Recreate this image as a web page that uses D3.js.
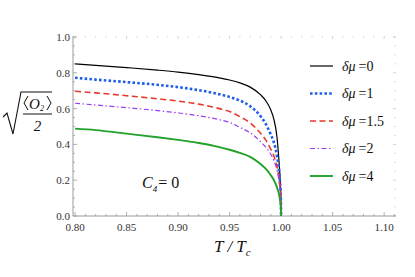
<!DOCTYPE html>
<html><head><meta charset="utf-8">
<script src="https://cdn.jsdelivr.net/npm/d3@7"></script>
<style>body{margin:0;background:#fff}svg{display:block}
text{font-family:"Liberation Serif","Times New Roman","DejaVu Serif",serif}</style>
</head><body>
<svg id="c" width="415" height="277"></svg>
<script>
const temps = [0.80,0.82,0.85,0.88,0.90,0.92,0.94,0.95,0.96,0.97,0.98,0.985,0.99,0.993,0.996,0.998,0.999,0.9997,1.0];
const mu0   = [0.850,0.842,0.829,0.815,0.804,0.790,0.772,0.760,0.744,0.720,0.678,0.645,0.592,0.540,0.440,0.300,0.210,0.115,0];
const mu1   = [0.772,0.762,0.748,0.733,0.720,0.703,0.680,0.665,0.645,0.613,0.558,0.515,0.455,0.410,0.335,0.255,0.180,0.100,0];
const mu15  = [0.697,0.688,0.672,0.655,0.642,0.625,0.600,0.584,0.555,0.520,0.462,0.425,0.372,0.335,0.275,0.210,0.155,0.090,0];
const mu2   = [0.630,0.620,0.605,0.589,0.576,0.560,0.538,0.523,0.495,0.465,0.415,0.385,0.345,0.310,0.255,0.195,0.145,0.080,0];
const mu4   = [0.488,0.480,0.460,0.440,0.425,0.408,0.385,0.370,0.353,0.330,0.290,0.265,0.228,0.200,0.160,0.120,0.085,0.050,0];
const seriesLabels = ["=0","=1","=1.5","=2","=4"];
const xTicks = [0.80,0.85,0.90,0.95,1.00,1.05,1.10];
const yTicks = [0.0,0.2,0.4,0.6,0.8,1.0];

const series = [
  {v: mu0,  color:"#000000", w:1.2, dash:null},
  {v: mu1,  color:"#1f5ee8", w:2.6, dash:"2.6,2.2"},
  {v: mu15, color:"#e8392a", w:1.6, dash:"6,3.5"},
  {v: mu2,  color:"#9b3ef0", w:1.2, dash:"5,2.5,1.5,2.5"},
  {v: mu4,  color:"#22a22a", w:1.9, dash:null}
];

const svg = d3.select("#c");
const L=73, R=396, T=36, B=216;
const x = d3.scaleLinear().domain([0.798,1.1115]).range([L,R]);
const y = d3.scaleLinear().domain([0,1.0]).range([B,T+1]);
const axCol="#9a9a9a";

const xMinor = d3.range(80,112).map(d=>d/100);
const yMinor = d3.range(0,21).map(d=>d*0.05);
const isMajX = d=>Math.abs(d*20-Math.round(d*20))<1e-6;
const isMajY = d=>Math.abs(d*5-Math.round(d*5))<1e-6;

const g = svg.append("g");
g.selectAll(".xm").data(xMinor).enter().append("line")
 .attr("x1",d=>x(d)).attr("x2",d=>x(d)).attr("y1",B).attr("y2",d=>B-(isMajX(d)?4:2))
 .attr("stroke",axCol).attr("stroke-width",0.8);
g.selectAll(".xt").data(xMinor).enter().append("line")
 .attr("x1",d=>x(d)).attr("x2",d=>x(d)).attr("y1",T).attr("y2",d=>T+(isMajX(d)?3:1.5))
 .attr("stroke","#c8c8c8").attr("stroke-width",0.8);
g.selectAll(".ym").data(yMinor).enter().append("line")
 .attr("y1",d=>y(d)).attr("y2",d=>y(d)).attr("x1",L).attr("x2",d=>L+(isMajY(d)?4:2))
 .attr("stroke",axCol).attr("stroke-width",0.8);
g.selectAll(".yr").data(yMinor).enter().append("line")
 .attr("y1",d=>y(d)).attr("y2",d=>y(d)).attr("x1",R).attr("x2",d=>R-(isMajY(d)?3:1.5))
 .attr("stroke","#c8c8c8").attr("stroke-width",0.8);

g.append("line").attr("x1",L).attr("x2",R).attr("y1",B).attr("y2",B).attr("stroke",axCol).attr("stroke-width",1);
g.append("line").attr("x1",L).attr("x2",L).attr("y1",T).attr("y2",B).attr("stroke",axCol).attr("stroke-width",1);

g.selectAll(".xl").data(xTicks).enter().append("text")
 .attr("x",d=>x(d)).attr("y",B+15).attr("text-anchor","middle")
 .attr("font-size",11).attr("fill","#333")
 .text(d=>d3.format(".2f")(d));
g.selectAll(".yl").data(yTicks).enter().append("text")
 .attr("x",L-3).attr("y",d=>y(d)+4).attr("text-anchor","end")
 .attr("font-size",11).attr("fill","#333")
 .text(d=>d3.format(".1f")(d));

const line = d3.line().x((d,i)=>x(temps[i])).y(d=>y(d)).curve(d3.curveMonotoneX);
series.forEach(s=>{
  svg.append("path").datum(s.v).attr("d",line).attr("fill","none")
   .attr("stroke",s.color).attr("stroke-width",s.w)
   .attr("stroke-dasharray",s.dash);
});

const lg = svg.append("g");
series.forEach((s,i)=>{
  const yy = 66 + i*27.5;
  lg.append("line").attr("x1",310).attr("x2",333).attr("y1",yy).attr("y2",yy)
   .attr("stroke",s.color).attr("stroke-width",s.w).attr("stroke-dasharray",s.dash);
  const t = lg.append("text").attr("x",342).attr("y",yy+4.5)
   .attr("font-size",14).attr("fill","#111");
  t.append("tspan").attr("font-style","italic").text("δμ");
  t.append("tspan").attr("dx",3).text(seriesLabels[i]);
});

const c4 = svg.append("text").attr("x",142).attr("y",188)
  .attr("font-size",16).attr("fill","#111");
c4.append("tspan").attr("font-style","italic").text("C");
c4.append("tspan").attr("font-style","italic").attr("font-size",9).attr("dy",4).text("4");
c4.append("tspan").attr("dy",-4).attr("dx",1).text("= 0");

const xl = svg.append("text").attr("x",214).attr("y",252)
  .attr("font-size",17).attr("font-style","italic").attr("fill","#111");
xl.append("tspan").text("T / T");
xl.append("tspan").attr("font-size",11).attr("dy",4).text("c");

// y label: sqrt(<O2>/2)
const yl = svg.append("g");
yl.append("path").attr("d","M3,117 L7,113 L13,134 L21,92 L52,92")
  .attr("fill","none").attr("stroke","#111").attr("stroke-width",1.1);
yl.append("path").attr("d","M28,96 L24,103 L28,110").attr("fill","none").attr("stroke","#111").attr("stroke-width",1);
yl.append("path").attr("d","M47,96 L51,103 L47,110").attr("fill","none").attr("stroke","#111").attr("stroke-width",1);
yl.append("text").attr("x",29).attr("y",109)
  .attr("font-size",15).attr("font-style","italic").attr("fill","#111").text("O");
yl.append("text").attr("x",40).attr("y",111)
  .attr("font-size",8).attr("font-style","italic").attr("fill","#111").text("2");
yl.append("line").attr("x1",23).attr("x2",52).attr("y1",114).attr("y2",114).attr("stroke","#111").attr("stroke-width",1);
yl.append("text").attr("x",37.5).attr("y",131).attr("text-anchor","middle")
  .attr("font-size",15).attr("font-style","italic").attr("fill","#111").text("2");
</script>
</body></html>
